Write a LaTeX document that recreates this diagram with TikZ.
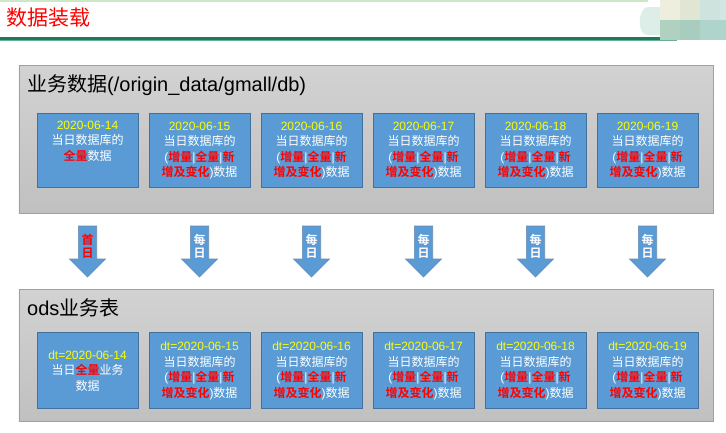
\documentclass[tikz,border=0pt]{standalone}
\usepackage{fontspec}
\setmainfont{Liberation Sans}
\newfontfamily\cjk{Noto Sans CJK SC}[BoldFont={Noto Sans CJK SC Bold}]
\usetikzlibrary{positioning}
\definecolor{boxblue}{HTML}{5B9BD5}
\definecolor{boxedge}{HTML}{41719C}
\definecolor{paneledge}{HTML}{A0A0A0}
\definecolor{panetop}{HTML}{D2D2D2}
\definecolor{panebot}{HTML}{C0C0C0}
\definecolor{hdrdark}{HTML}{1B7B5A}
\definecolor{hdrlight}{HTML}{6AAE98}
\definecolor{hdrtop}{HTML}{CDE8C8}
\definecolor{dateyellow}{HTML}{FFFF00}
\definecolor{hot}{HTML}{FF0000}
\definecolor{blob}{HTML}{DDEDE8}
\definecolor{sqa}{HTML}{EEEEDE}
\definecolor{sqb}{HTML}{E0E6D3}
\definecolor{sqc}{HTML}{CEE3DD}
\definecolor{sqd}{HTML}{D3E6E4}
\definecolor{sqe}{HTML}{B0D0C0}
\definecolor{sqf}{HTML}{A8CCBE}
\definecolor{sqg}{HTML}{AFD4CC}
\newcommand\zh[1]{{\cjk #1}}
\newcommand\rb[1]{{\cjk\bfseries\color{hot}#1}}
\newcommand\dt[1]{{\color{dateyellow}#1}}
\begin{document}
\begin{tikzpicture}[x=1pt,y=-1pt,
  panel/.style={draw=paneledge, line width=0.8pt, top color=panetop, bottom color=panebot,
    minimum width=694pt, anchor=north west, inner sep=0pt},
  dbox/.style={draw=boxedge, line width=0.8pt, fill=boxblue, minimum width=101pt,
    text width=99pt, align=center, text=white, inner sep=0pt,
    font=\fontsize{12}{15.5}\selectfont},
  blockarrow/.style={fill=boxblue, draw=boxedge!80, line width=0.6pt},
  arrowtext/.style={align=center, font=\fontsize{12}{13}\selectfont\cjk\bfseries, inner sep=0pt},
  ptitle/.style={anchor=west, font=\fontsize{20}{24}\selectfont, inner sep=0pt}]
\useasboundingbox (0,0) rectangle (726,432);
\fill[white] (0,0) rectangle (726,432);
% header
\draw[hdrtop, line width=1.5pt] (0,0.75) -- (648,0.75);
\fill[hdrlight] (0,37) rectangle (677,41);
\fill[hdrdark] (0,37) rectangle (670,39.5);
\fill[blob] (660,7) -- (648,7) .. controls (638,7) and (636,35) .. (648,35) -- (660,35) -- cycle;
\fill[sqa] (660,0) rectangle (680,20);
\fill[sqb] (680,0) rectangle (700,20);
\fill[sqc] (700,0) rectangle (720,20);
\fill[sqd] (720,0) rectangle (726,20);
\fill[sqe] (660,20) rectangle (680,40);
\fill[sqf] (680,20) rectangle (700,40);
\fill[sqg] (700,20) rectangle (726,40);
\node[anchor=west, inner sep=0pt, text=hot, font=\fontsize{21}{24}\selectfont\cjk] (title) at (6,18) {数据装载};
% panels
\node[panel, minimum height=148pt] (p1) at (18.5,65) {};
\node[panel, minimum height=132pt] (p2) at (18.5,289) {};
\node[ptitle] (t1) at (27,85) {\zh{业务数据}(/origin\_data/gmall/db)};
\node[ptitle] (t2) at (27,308) {ods\zh{业务表}};
% top boxes
\node[dbox, minimum height=74.5pt] (a1) at (87.5,150.5)
  {\dt{2020-06-14}\\\zh{当日数据库的}\\\rb{全量}\zh{数据}\\\strut};
\foreach \i/\d in {2/15,3/16,4/17,5/18,6/19}{
  \node[dbox, minimum height=74.5pt] (a\i) at ({87.5+112*(\i-1)},150.5)
    {\dt{2020-06-\d}\\\zh{当日数据库的}\\(\rb{增量}|\rb{全量}|\rb{新}\\\rb{增及变化})\zh{数据}};
}
% bottom boxes
\node[dbox, minimum height=76pt] (b1) at (87.5,370.7)
  {\dt{dt=2020-06-14}\\\zh{当日}\rb{全量}\zh{业务}\\\zh{数据}};
\foreach \i/\d in {2/15,3/16,4/17,5/18,6/19}{
  \node[dbox, minimum height=76pt] (b\i) at ({87.5+112*(\i-1)},370.7)
    {\dt{dt=2020-06-\d}\\\zh{当日数据库的}\\(\rb{增量}|\rb{全量}|\rb{新}\\\rb{增及变化})\zh{数据}};
}
% block arrows
\foreach \i in {1,...,6}{
  \pgfmathsetmacro\cx{87.5+112*(\i-1)}
  \coordinate (s\i) at (\cx,226);
  \coordinate (e\i) at (\cx,277);
  \path[blockarrow] ([xshift=-9.2pt]s\i) -- ([xshift=9.2pt]s\i) -- ([xshift=9.2pt]s\i |- 0,259)
    -- ([xshift=18pt]s\i |- 0,259) -- (e\i) -- ([xshift=-18pt]s\i |- 0,259)
    -- ([xshift=-9.2pt]s\i |- 0,259) -- cycle;
}
\node[arrowtext, text=hot] (w1) at (87.5,246.5) {首\\日};
\foreach \i in {2,...,6}{
  \node[arrowtext, text=white] (w\i) at ({87.5+112*(\i-1)},246.5) {每\\日};
}
\end{tikzpicture}
\end{document}
